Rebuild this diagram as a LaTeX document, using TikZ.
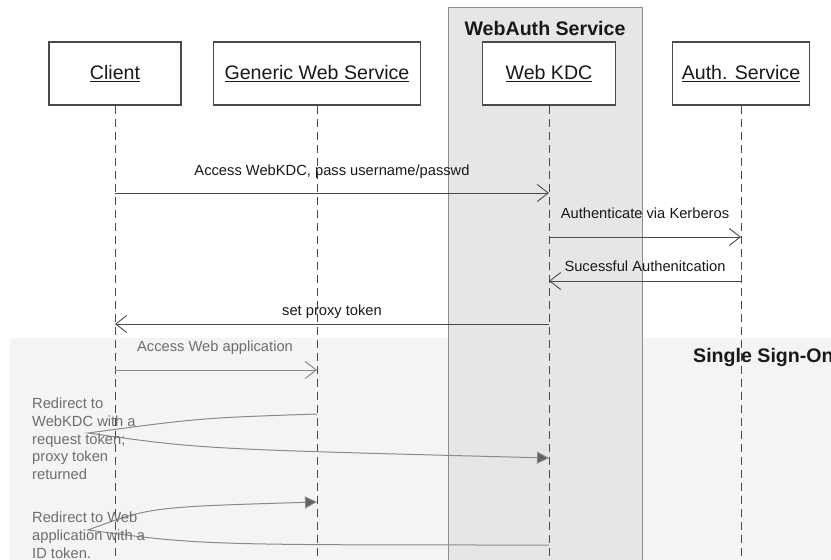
\documentclass[tikz,border=0pt]{standalone}
\usepackage{fontspec}
\setmainfont{Liberation Sans}
\usetikzlibrary{arrows.meta}
\definecolor{ssofill}{HTML}{F4F4F4}
\definecolor{wafill}{HTML}{E6E6E6}
\definecolor{waline}{HTML}{8C8C8C}
\definecolor{lineclr}{HTML}{4A4A4A}
\definecolor{soft}{HTML}{8A8A8A}
\definecolor{softtext}{HTML}{6E6E6E}
\begin{document}
\begin{tikzpicture}[x=1pt,y=-1pt,
  actor/.style={draw=lineclr, line width=1.2pt, fill=white, minimum height=63pt, inner sep=0pt,
    font=\fontsize{19.6}{23}\selectfont, text=black!90},
  life/.style={draw=lineclr, line width=1pt, dash pattern=on 8pt off 5pt},
  msg/.style={draw=lineclr, line width=0.9pt, -{Straight Barb[length=11pt,width=17pt,line width=0.9pt]}},
  ssomsg/.style={draw=soft, line width=1pt, -{Straight Barb[length=11pt,width=17pt,line width=1pt]}},
  ssoredir/.style={draw=soft, line width=1pt, -{Triangle[length=12pt,width=12pt,fill=black!62]}},
  lbl/.style={font=\fontsize{14.7}{17.7}\selectfont, inner sep=0pt, text=black!90},
  softlbl/.style={font=\fontsize{14.7}{17.7}\selectfont, inner sep=0pt, text=softtext},
  title/.style={font=\bfseries\fontsize{19.6}{23}\selectfont, inner sep=0pt, text=black!90},
]
\useasboundingbox (0,0) rectangle (831,560);
\fill[white] (0,0) rectangle (831,560);
% regions
\fill[ssofill] (10,338) rectangle (831,560);
\filldraw[fill=wafill, draw=waline, line width=1pt] (448,7) rectangle (642,560);
\node[title, anchor=base] (watitle) at (545,35) {WebAuth Service};
\node[title, anchor=base west] (ssotitle) at (693,362) {Single Sign-On};

% actors
\node[actor, minimum width=132pt] (client) at (115,73.5) {\underline{Client}};
\node[actor, minimum width=207pt] (gws) at (317,73.5) {\underline{Generic Web Service}};
\node[actor, minimum width=133pt] (kdc) at (549,73.5) {\underline{Web KDC}};
\node[actor, minimum width=137pt] (auth) at (741,73.5) {\underline{Auth. Service}};

% lifeline ends
\coordinate (clientEnd) at (115,560);
\coordinate (gwsEnd) at (317,560);
\coordinate (kdcEnd) at (549,560);
\coordinate (authEnd) at (741,560);
\draw[life] (client.south) -- (clientEnd);
\draw[life] (gws.south) -- (gwsEnd);
\draw[life] (kdc.south) -- (kdcEnd);
\draw[life] (auth.south) -- (authEnd);

% message rows
\coordinate (r1) at (0,193);
\coordinate (r2) at (0,237);
\coordinate (r3) at (0,281);
\coordinate (r4) at (0,324);
\coordinate (r5) at (0,370);

\draw[msg] (client |- r1) -- (kdc |- r1);
\node[lbl, anchor=base] (m1) at (332,175) {Access WebKDC, pass username/passwd};
\draw[msg] (kdc |- r2) -- (auth |- r2);
\node[lbl, anchor=base] (m2) at (645,218) {Authenticate via Kerberos};
\draw[msg] (auth |- r3) -- (kdc |- r3);
\node[lbl, anchor=base] (m3) at (645,271) {Sucessful Authenitcation};
\draw[msg] (kdc |- r4) -- (client |- r4);
\node[lbl, anchor=base] (m4) at (332,315) {set proxy token};

\draw[ssomsg] (client |- r5) -- (gws |- r5);
\node[softlbl, anchor=base] (m5) at (215,351) {Access Web application};

% redirects
\coordinate (r6a) at (0,414);
\coordinate (r6b) at (0,458);
\coordinate (turn6) at (88,433);
\draw[ssoredir] (gws |- r6a) .. controls (200,418) .. (turn6) .. controls (200,449) .. (kdc |- r6b);
\node[softlbl, anchor=north west, align=left] (m6) at (32,398)
  {Redirect to\\WebKDC with a\\request token;\\proxy token\\returned};

\coordinate (r7a) at (0,545);
\coordinate (r7b) at (0,502);
\coordinate (turn7) at (88,530);
\draw[ssoredir] (kdc |- r7a) .. controls (200,545) .. (turn7) .. controls (150,507) .. (gws |- r7b);
\node[softlbl, anchor=north west, align=left] (m7) at (32,512)
  {Redirect to Web\\application with a\\ID token.};
\end{tikzpicture}
\end{document}
